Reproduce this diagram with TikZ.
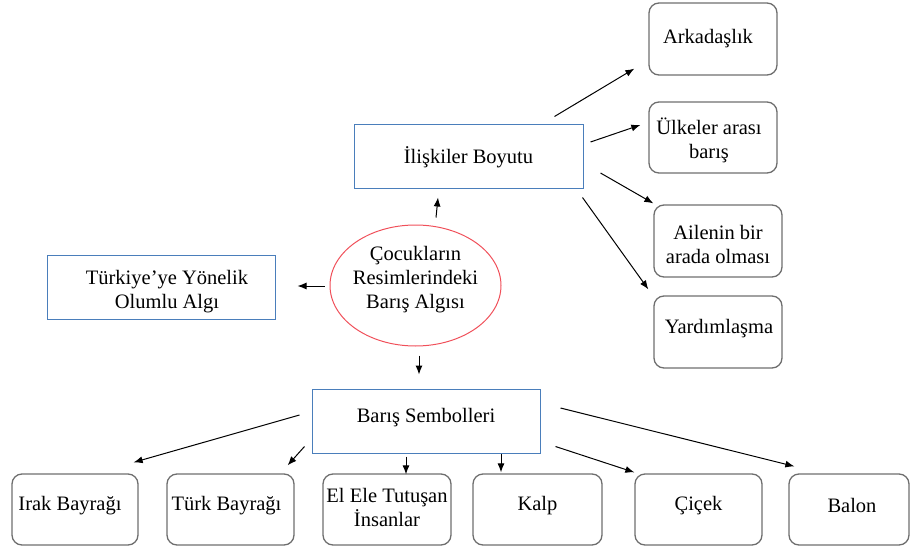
\documentclass[tikz,border=0pt]{standalone}
\usepackage{fontspec}
\setmainfont{Liberation Serif}
\usetikzlibrary{arrows.meta,calc,shapes.geometric}
\definecolor{boxblue}{HTML}{4A7EBB}
\definecolor{ellred}{HTML}{F0505A}
\definecolor{boxgray}{HTML}{6E6E6E}
\begin{document}
\begin{tikzpicture}[x=1pt,y=-1pt,
  every node/.style={font=\fontsize{20.5}{24}\selectfont, align=center, inner sep=0pt},
  bluebox/.style={draw=boxblue, line width=1pt, rectangle, minimum width=228pt, minimum height=64pt},
  roundbox/.style={draw=boxgray, line width=1.3pt, rectangle, rounded corners=10pt, minimum height=71pt},
  arr/.style={-{Latex[length=9pt,width=7pt]}, line width=1pt, black}]
\useasboundingbox (0,0) rectangle (911,546);
% central ellipse
\node[ellipse, draw=ellred, line width=1pt, minimum width=171pt, minimum height=121pt] (cen) at (415.5,285.5) {};
\node (centxt) at ($(cen)+(0,-6)$) {Çocukların\\Resimlerindeki\\Barış Algısı};
% blue boxes
\node[bluebox, minimum width=229pt] (ilis) at (468.5,156) {};
\node (ilist) at ($(ilis)+(0,1)$) {İlişkiler Boyutu};
\node[bluebox] (turk) at (161,287) {};
\node (turkt) at ($(turk)+(6,5)$) {Türkiye’ye Yönelik\\Olumlu Algı};
\node[bluebox] (bar) at (426,421) {};
\node (bart) at ($(bar)+(0,-3)$) {Barış Sembolleri};
% right boxes
\node[roundbox, minimum width=128pt, minimum height=72pt] (ark) at (713,39) {};
\node (arkt) at ($(ark)+(-5,0)$) {Arkadaşlık};
\node[roundbox, minimum width=128pt] (ulk) at (713,137.5) {};
\node (ulkt) at ($(ulk)+(-4,3)$) {Ülkeler arası\\barış};
\node[roundbox, minimum width=128pt, minimum height=72pt] (ail) at (718,241) {};
\node (ailt) at ($(ail)+(0,3)$) {Ailenin bir\\arada olması};
\node[roundbox, minimum width=128pt, minimum height=72pt] (yar) at (718,332) {};
\node (yart) at ($(yar)+(1,-3)$) {Yardımlaşma};
% bottom boxes
\node[roundbox, minimum width=126pt] (irak) at (75,509.5) {};
\node (irakt) at ($(irak)+(-5,-4)$) {Irak Bayrağı};
\node[roundbox, minimum width=127pt] (turkb) at (230.5,509.5) {};
\node (turkbt) at ($(turkb)+(-4,-4)$) {Türk Bayrağı};
\node[roundbox, minimum width=128pt] (elele) at (387,509.5) {};
\node (elelet) at ($(elele)+(0,-2)$) {El Ele Tutuşan\\İnsanlar};
\node[roundbox, minimum width=129pt] (kalp) at (537.5,509.5) {};
\node (kalpt) at ($(kalp)+(0,-4)$) {Kalp};
\node[roundbox, minimum width=127pt] (cicek) at (698.5,509.5) {};
\node (cicekt) at ($(cicek)+(0,-4)$) {Çiçek};
\node[roundbox, minimum width=120pt] (balon) at (849,509.5) {};
\node (balont) at ($(balon)+(3,-4)$) {Balon};
% arrows from İlişkiler
\draw[arr] ($(ilis.north east)+(-29,-7)$) -- ($(ark.south west)+(-14,-7)$);
\draw[arr] ($(ilis.east)+(7,-14)$) -- ($(ulk.west)+(-8,-12.5)$);
\draw[arr] ($(ilis.east)+(17,17)$) -- ($(ail.north west)+(0,-1)$);
\draw[arr] ($(ilis.south east)+(-1,9)$) -- ($(yar.north west)+(-5,-6)$);
% arrows from centre
\draw[arr] ($(cen.north)+(20.5,-7)$) -- ($(ilis.south)+(-30.5,9)$);
\draw[arr] ($(cen.west)+(-5,0.5)$) -- ($(turk.east)+(22,-1)$);
\draw[arr] ($(cen.south)+(3.5,9)$) -- ($(bar.north)+(-7,-14)$);
% arrows from Barış Sembolleri
\draw[arr] ($(bar.west)+(-12,-6)$) -- ($(irak.north east)+(-5,-11)$);
\draw[arr] ($(bar.south west)+(-7,-7)$) -- ($(turkb.north east)+(-7,-8)$);
\draw[arr] ($(bar.south)+(-20,3)$) -- ($(elele.north)+(19,1)$);
\draw[arr] ($(bar.south)+(75,0)$) -- ($(kalp.north)+(-36.5,-1)$);
\draw[arr] ($(bar.south east)+(15,-7)$) -- ($(cicek.north west)+(0,-1)$);
\draw[arr] ($(bar.east)+(20,-13)$) -- ($(balon.north west)+(6,-7)$);
\end{tikzpicture}
\end{document}
